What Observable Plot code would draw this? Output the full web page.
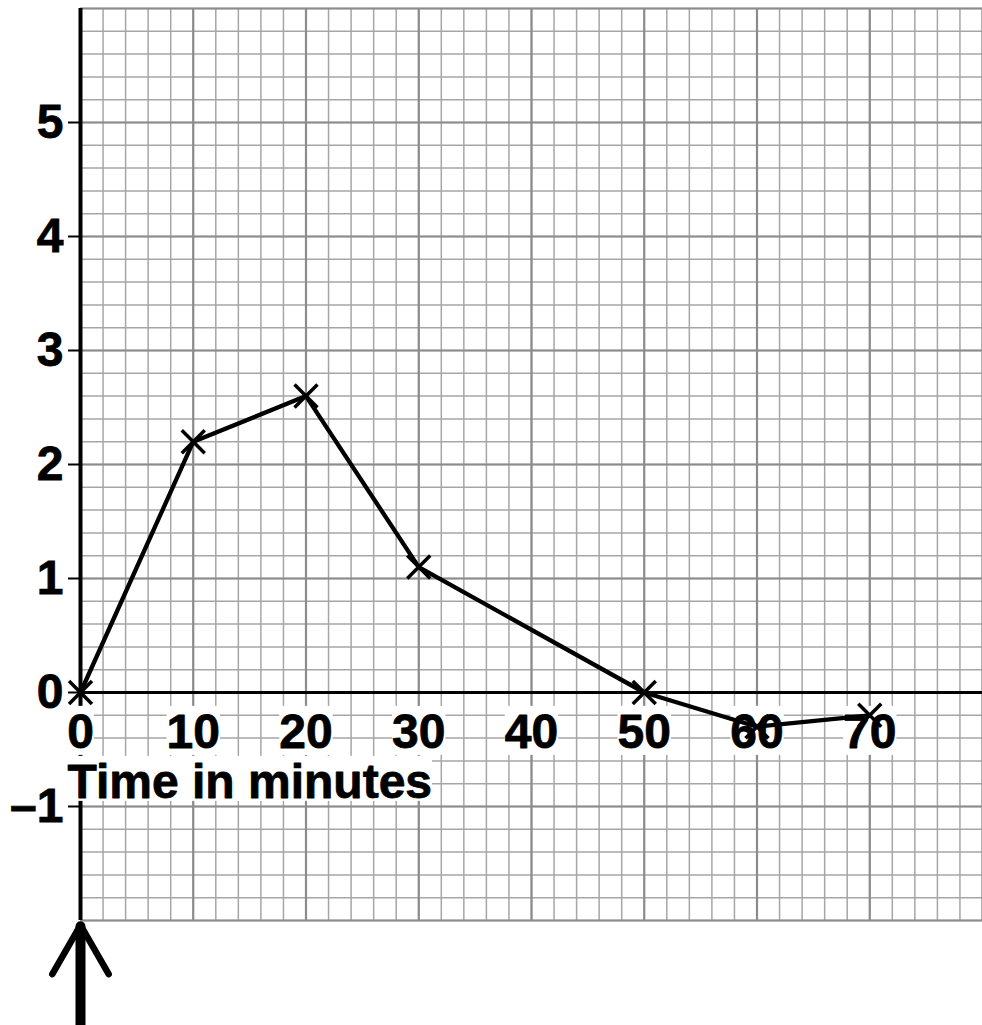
<!DOCTYPE html>
<html><head><meta charset="utf-8">
<script src="https://cdn.jsdelivr.net/npm/d3@7"></script>
<script src="https://cdn.jsdelivr.net/npm/@observablehq/plot@0.6"></script>
<style>body{margin:0;background:#fff;} svg{display:block;}</style>
</head><body><div id="chart"></div>
<script>
// Data
const times = [0, 10, 20, 30, 50, 60, 70];
const values = [0, 2.2, 2.6, 1.1, 0, -0.3, -0.2];
const xTickValues = [0, 10, 20, 30, 40, 50, 60, 70];
const yTickValues = [-1, 0, 1, 2, 3, 4, 5];
const xLabel = ["Time in minutes"];
// arrow annotation below the vertical axis
const arrowShaft = [{x: 0, y: -2.93}, {x: 0, y: -2.05}];
const arrowHead = [{x: -2.5, y: -2.47}, {x: 0, y: -2.04}, {x: 2.5, y: -2.47}];

const data = times.map((t, i) => ({t, v: values[i]}));
const minorX = d3.range(0, 41).map(i => i * 2);
const majorX = d3.range(0, 9).map(i => i * 10);
const minorY = d3.range(-10, 31).map(i => i / 5);
const majorY = d3.range(-2, 7);
const fmt = d => d < 0 ? "\u2013" + Math.abs(d) : String(d);

const font = "'Liberation Sans', Arial, Helvetica, sans-serif";
const FS = 48;

const plot = Plot.plot({
  width: 982,
  height: 1025,
  marginLeft: 80,
  marginRight: 0,
  marginTop: 8,
  marginBottom: 105,
  style: {fontFamily: font, fontWeight: "bold", background: "#fff", overflow: "visible"},
  x: {domain: [0, 80], axis: null},
  y: {domain: [-2, 6], axis: null},
  marks: [
    Plot.gridX(minorX, {stroke: "#a6a6a6", strokeOpacity: 1, strokeWidth: 1.5}),
    Plot.gridY(minorY, {stroke: "#a6a6a6", strokeOpacity: 1, strokeWidth: 1.5}),
    Plot.gridX(majorX, {stroke: "#8c8c8c", strokeOpacity: 1, strokeWidth: 2.2}),
    Plot.gridY(majorY, {stroke: "#8c8c8c", strokeOpacity: 1, strokeWidth: 2.2}),
    Plot.ruleY([0], {stroke: "#000", strokeWidth: 3}),
    Plot.ruleX([0], {stroke: "#000", strokeWidth: 4}),
    Plot.axisY(yTickValues, {
      tickSize: 12, tickPadding: 5, stroke: "#000", strokeWidth: 2,
      tickFormat: fmt, fontSize: FS, fontWeight: "bold", fill: "#000", label: null
    }),
    Plot.text(xTickValues, {
      x: d => d, y: () => 0, text: d => String(d), dy: 40,
      fontSize: FS, fontWeight: "bold", fill: "#000", stroke: "#000", strokeWidth: 0.8,
      textAnchor: "middle", lineAnchor: "middle"
    }),
    Plot.text(xLabel, {
      x: () => 0, y: () => 0, text: d => d, dx: -13, dy: 90,
      fontSize: FS, fontWeight: "bold", fill: "#000", stroke: "#000", strokeWidth: 0.8,
      textAnchor: "start", lineAnchor: "middle"
    }),
    Plot.line(data, {x: "t", y: "v", stroke: "#000", strokeWidth: 4.3}),
    Plot.dot(data, {x: "t", y: "v", symbol: "times", r: 10.5, stroke: "#000", strokeWidth: 3.5}),
    Plot.line(arrowShaft, {x: "x", y: "y", stroke: "#000", strokeWidth: 10}),
    Plot.line(arrowHead, {x: "x", y: "y", stroke: "#000", strokeWidth: 6.5, strokeLinecap: "round", strokeLinejoin: "miter"})
  ]
});

document.getElementById("chart").appendChild(plot);

// thicken y tick labels slightly
plot.querySelectorAll('g[aria-label="y-axis tick label"]').forEach(g => {
  g.setAttribute("stroke", "#000");
  g.setAttribute("stroke-width", "0.8");
});

// white background boxes behind the x tick labels and the axis title
plot.querySelectorAll('g[aria-label="text"]').forEach((g, gi) => {
  g.querySelectorAll("text").forEach(t => {
    const b = t.getBBox();
    const r = document.createElementNS("http://www.w3.org/2000/svg", "rect");
    const trim = gi === 1 ? 8 : 4;
    r.setAttribute("x", b.x);
    r.setAttribute("y", b.y + 1);
    r.setAttribute("width", b.width);
    r.setAttribute("height", b.height - trim);
    r.setAttribute("fill", "#fff");
    r.setAttribute("stroke", "none");
    if (t.getAttribute("transform")) r.setAttribute("transform", t.getAttribute("transform"));
    g.insertBefore(r, t);
  });
});
</script>
</body></html>
